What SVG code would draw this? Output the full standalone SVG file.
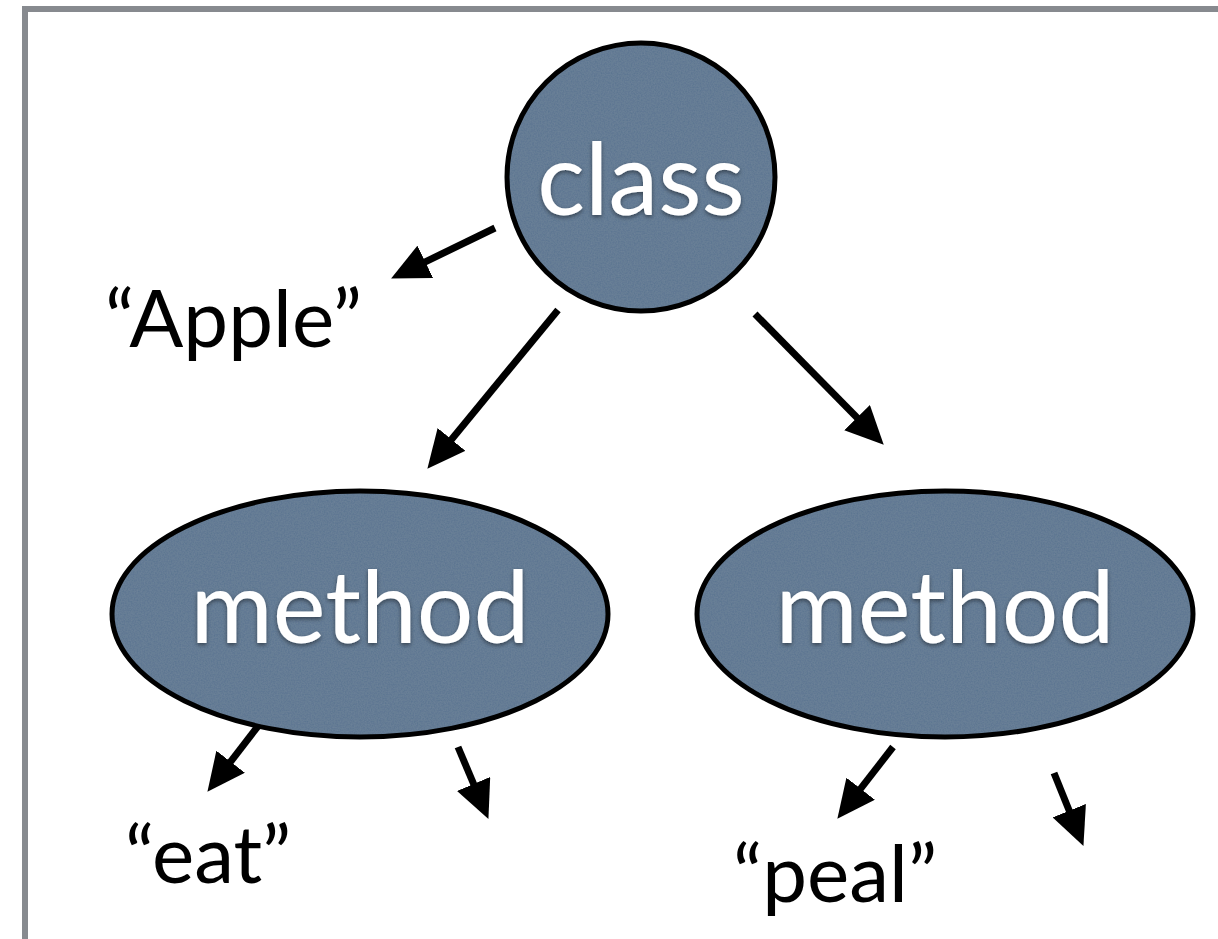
<svg xmlns="http://www.w3.org/2000/svg" width="1218" height="939" viewBox="0 0 1218 939">
  <defs>
    <style>
      .fill { fill: #58738f; stroke: none; filter: url(#grain); }
      .rim { fill: none; stroke: #000; stroke-width: 5; }
      .nlabel { font-family: Lato, "Open Sans", "DejaVu Sans", sans-serif; font-size: 100px; fill: #fff; text-anchor: middle; filter: url(#shadow); }
      .label { font-family: Lato, "Open Sans", "DejaVu Sans", sans-serif; font-size: 80px; fill: #000; }
      .edge { stroke: #000; stroke-width: 7; fill: none; marker-end: url(#head); }
    </style>
    <marker id="head" viewBox="0 0 38 36" refX="12" refY="18" markerWidth="38" markerHeight="36" markerUnits="userSpaceOnUse" orient="auto">
      <path d="M0,0 L38,18 L0,36 z" fill="#000"/>
    </marker>
    <!-- fine paper-like grain on the node fills -->
    <filter id="grain" x="0" y="0" width="100%" height="100%">
      <feTurbulence type="fractalNoise" baseFrequency="0.7" numOctaves="2" seed="3" result="noise"/>
      <feColorMatrix in="noise" type="matrix" values="0 0 0 0 1  0 0 0 0 1  0 0 0 0 1  0 0 0 0.07 0" result="speck"/>
      <feComposite in="speck" in2="SourceAlpha" operator="in" result="clipped"/>
      <feMerge>
        <feMergeNode in="SourceGraphic"/>
        <feMergeNode in="clipped"/>
      </feMerge>
    </filter>
    <filter id="shadow" x="-10%" y="-20%" width="120%" height="140%">
      <feDropShadow dx="0" dy="2" stdDeviation="2" flood-color="#000" flood-opacity="0.45"/>
    </filter>
  </defs>

  <rect width="1218" height="939" fill="#fff"/>
  <!-- frame -->
  <path d="M25,939 V9 H1218" fill="none" stroke="#878a8f" stroke-width="6"/>

  <g id="connectors">
    <line class="edge" x1="495" y1="228" x2="414.5" y2="267.1"/>
    <line class="edge" x1="558" y1="310" x2="443.9" y2="448.7"/>
    <line class="edge" x1="755" y1="314" x2="865.5" y2="426.2"/>
    <line class="edge" x1="262" y1="721" x2="223.3" y2="771.2"/>
    <line class="edge" x1="458" y1="747" x2="478.3" y2="795"/>
    <line class="edge" x1="893" y1="747" x2="853.3" y2="798.2"/>
    <line class="edge" x1="1054" y1="773" x2="1073.7" y2="821.8"/>
  </g>

  <g id="class-node">
    <circle class="fill" cx="641" cy="177" r="134"/>
    <circle class="rim" cx="641" cy="177" r="134"/>
    <text class="nlabel" x="641" y="215">class</text>
  </g>

  <g id="method-left">
    <ellipse class="fill" cx="360" cy="614" rx="248" ry="123"/>
    <ellipse class="rim" cx="360" cy="614" rx="248" ry="123"/>
    <text class="nlabel" x="360" y="643">method</text>
  </g>

  <g id="method-right">
    <ellipse class="fill" cx="945" cy="614" rx="248" ry="123"/>
    <ellipse class="rim" cx="945" cy="614" rx="248" ry="123"/>
    <text class="nlabel" x="945" y="643">method</text>
  </g>

  <g id="label-apple">
    <text class="label" x="105" y="347">“Apple”</text>
  </g>
  <g id="label-eat">
    <text class="label" x="125" y="883">“eat”</text>
  </g>
  <g id="label-peal">
    <text class="label" x="733" y="902">“peal”</text>
  </g>
</svg>
